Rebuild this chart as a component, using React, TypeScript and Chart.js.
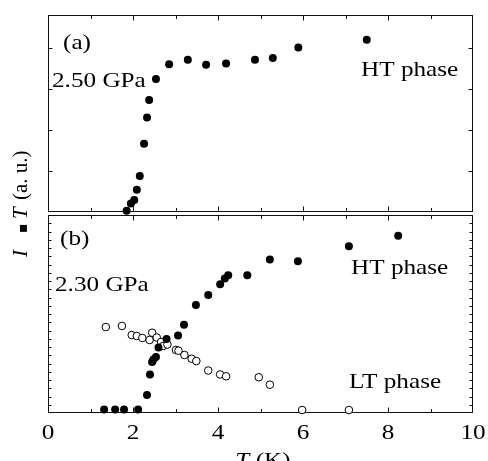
import React, { useEffect, useRef } from 'react';
import { Chart, registerables } from 'chart.js';

Chart.register(...registerables);

// ---------- data ----------
const xTickValues = [0, 1, 2, 3, 4, 5, 6, 7, 8, 9, 10];
const xLabelValues = [0, 2, 4, 6, 8, 10];
const xTickLabels = ['0', '2', '4', '6', '8', '10'];

// panel (a) 2.50 GPa, HT phase
const aTemp = [1.85, 1.95, 2.03, 2.09, 2.16, 2.26, 2.33, 2.38, 2.54, 2.85, 3.29, 3.72, 4.19, 4.87, 5.29, 5.89, 7.5];
const aIT = [0.03, 0.21, 0.29, 0.54, 0.88, 1.66, 2.3, 2.73, 3.24, 3.6, 3.71, 3.59, 3.62, 3.71, 3.75, 4.01, 4.2];
const aYTicks = [1, 2, 3, 4];

// panel (b) 2.30 GPa
const bHTTemp = [1.32, 1.58, 1.79, 2.12, 2.33, 2.4, 2.45, 2.48, 2.54, 2.6, 2.79, 3.06, 3.2, 3.48, 3.77, 4.05, 4.16, 4.24, 4.69, 5.22, 5.88, 7.08, 8.24];
const bHTIT = [0.42, 0.42, 0.42, 0.42, 2.18, 4.67, 6.18, 6.48, 6.79, 7.94, 8.97, 9.39, 10.7, 13.1, 14.3, 15.6, 16.3, 16.7, 16.7, 18.6, 18.4, 20.2, 21.5];
const bLTTemp = [1.36, 1.74, 1.97, 2.09, 2.22, 2.39, 2.45, 2.56, 2.66, 2.71, 2.81, 3.01, 3.07, 3.21, 3.38, 3.49, 3.77, 4.05, 4.19, 4.96, 5.22, 5.98, 7.08];
const bLTIT = [10.42, 10.55, 9.45, 9.33, 9.09, 8.85, 9.73, 9.15, 8.61, 8.12, 8.3, 7.64, 7.55, 7.03, 6.58, 6.3, 5.15, 4.67, 4.45, 4.33, 3.43, 0.36, 0.36];
const bYTicks = Array.from({ length: 23 }, (_, i) => i + 1);

// ---------- drawing helpers ----------
const SERIF = '"Liberation Serif", "Times New Roman", Times, serif';
type Part = { t: string; it?: boolean; bold?: boolean; size?: number; face?: string; at?: number };
type TextItem = { parts: Part[]; x: number; y: number; align?: string; sx?: number; size?: number; rot?: number };
type PanelOpts = { yTicks: number[]; yTickLen: number; xLabels: boolean; texts: TextItem[] };

function fontOf(p: Part, base: number) {
  return `${p.it ? 'italic ' : ''}${p.bold ? 'bold ' : ''}${p.size || base}px ${p.face || SERIF}`;
}

function drawParts(ctx: CanvasRenderingContext2D, parts: Part[], x: number, y: number, align: string, sx: number, base: number, rot: number) {
  let total = 0;
  for (const p of parts) {
    ctx.font = fontOf(p, base);
    total += ctx.measureText(p.t).width;
  }
  ctx.save();
  ctx.translate(x, y);
  if (rot) ctx.rotate(rot);
  ctx.scale(sx, 1);
  ctx.fillStyle = '#000';
  ctx.textAlign = 'left';
  ctx.textBaseline = 'alphabetic';
  let cx = align === 'center' ? -total / 2 : 0;
  for (const p of parts) {
    ctx.font = fontOf(p, base);
    const px = typeof p.at === 'number' ? p.at : cx;
    ctx.fillText(p.t, px, 0);
    cx = px + ctx.measureText(p.t).width;
  }
  ctx.restore();
}

function makePanelPlugin(opts: PanelOpts) {
  return {
    id: 'panel',
    beforeDatasetsDraw(chart: any) {
      const { ctx, chartArea: a, scales } = chart;
      const L = Math.round(a.left) + 0.5;
      const R = Math.round(a.right) - 0.5;
      const T = Math.round(a.top) + 0.5;
      const B = Math.round(a.bottom) - 0.5;
      ctx.save();
      ctx.strokeStyle = '#111';
      ctx.lineWidth = 1;
      ctx.strokeRect(L, T, R - L, B - T);
      ctx.beginPath();
      for (const v of xTickValues) {
        if (v === 0 || v === 10) continue;
        const px = Math.round(scales.x.getPixelForValue(v)) + 0.5;
        const len = v % 2 === 0 ? 5 : 3.5;
        ctx.moveTo(px, B);
        ctx.lineTo(px, B - len);
        ctx.moveTo(px, T);
        ctx.lineTo(px, T + len);
      }
      for (const v of opts.yTicks) {
        const py = Math.round(scales.y.getPixelForValue(v)) + 0.5;
        ctx.moveTo(L, py);
        ctx.lineTo(L + opts.yTickLen, py);
        ctx.moveTo(R, py);
        ctx.lineTo(R - opts.yTickLen, py);
      }
      ctx.stroke();
      ctx.restore();
    },
    afterDraw(chart: any) {
      const { ctx, scales } = chart;
      if (opts.xLabels) {
        xLabelValues.forEach((v, i) => {
          drawParts(ctx, [{ t: xTickLabels[i] }], scales.x.getPixelForValue(v), 439, 'center', 1.2, 21, 0);
        });
      }
      for (const tx of opts.texts) {
        drawParts(ctx, tx.parts, tx.x, tx.y, tx.align || 'left', tx.sx === undefined ? 1.2 : tx.sx, tx.size || 21, tx.rot || 0);
      }
    },
  };
}

function makeConfig(datasets: any[], yMax: number, padding: any, panelOpts: PanelOpts) {
  return {
    type: 'scatter',
    data: { datasets },
    options: {
      animation: false,
      responsive: false,
      events: [],
      layout: { padding },
      scales: {
        x: { type: 'linear', min: 0, max: 10, display: false },
        y: { type: 'linear', min: 0, max: yMax, display: false },
      },
      plugins: {
        legend: { display: false },
        tooltip: { enabled: false },
      },
    },
    plugins: [makePanelPlugin(panelOpts)],
  } as any;
}

const filled = (label: string, xs: number[], ys: number[]) => ({
  label,
  data: xs.map((x, i) => ({ x, y: ys[i] })),
  pointRadius: 4,
  pointBackgroundColor: '#000',
  pointBorderColor: '#000',
  pointBorderWidth: 0,
  showLine: false,
  clip: false,
});

const open = (label: string, xs: number[], ys: number[]) => ({
  label,
  data: xs.map((x, i) => ({ x, y: ys[i] })),
  pointRadius: 3.8,
  pointBackgroundColor: '#fff',
  pointBorderColor: '#000',
  pointBorderWidth: 1,
  showLine: false,
  clip: false,
});

export default function App() {
  const topRef = useRef<HTMLCanvasElement>(null);
  const botRef = useRef<HTMLCanvasElement>(null);

  useEffect(() => {
    const c1 = new Chart(
      topRef.current!,
      makeConfig(
        [filled('HT phase 2.50 GPa', aTemp, aIT)],
        4.8,
        { left: 48, right: 15, top: 15, bottom: 249 },
        {
          yTicks: aYTicks,
          yTickLen: 4,
          xLabels: false,
          texts: [
            { parts: [{ t: '(a)' }], x: 63, y: 49 },
            { parts: [{ t: '2.50 GPa' }], x: 52, y: 87 },
            { parts: [{ t: 'HT phase' }], x: 361, y: 76 },
            {
              parts: [
                { t: 'I', it: true, at: 0 },
                { t: '\u25AA', size: 14, face: '"DejaVu Sans", sans-serif', at: 24 },
                { t: 'T', it: true, at: 38 },
                { t: '(a. u.)', at: 57 },
              ],
              x: 27,
              y: 257,
              sx: 1,
              rot: -Math.PI / 2,
            },
          ],
        }
      )
    );
    const c2 = new Chart(
      botRef.current!,
      makeConfig(
        [filled('HT phase 2.30 GPa', bHTTemp, bHTIT), open('LT phase 2.30 GPa', bLTTemp, bLTIT)],
        24,
        { left: 48, right: 15, top: 215, bottom: 48 },
        {
          yTicks: bYTicks,
          yTickLen: 3,
          xLabels: true,
          texts: [
            { parts: [{ t: '(b)' }], x: 60, y: 245 },
            { parts: [{ t: '2.30 GPa' }], x: 55, y: 291 },
            { parts: [{ t: 'HT phase' }], x: 351, y: 274 },
            { parts: [{ t: 'LT phase' }], x: 349, y: 388 },
            { parts: [{ t: 'T', it: true }, { t: ' (K)' }], x: 263, y: 467, align: 'center' },
          ],
        }
      )
    );
    return () => {
      c1.destroy();
      c2.destroy();
    };
  }, []);

  return (
    <div style={{ position: 'fixed', left: 0, top: 0, width: 488, height: 461, background: '#fff', overflow: 'hidden' }}>
      <canvas ref={topRef} width={488} height={461} style={{ position: 'absolute', left: 0, top: 0 }} />
      <canvas ref={botRef} width={488} height={461} style={{ position: 'absolute', left: 0, top: 0 }} />
    </div>
  );
}
